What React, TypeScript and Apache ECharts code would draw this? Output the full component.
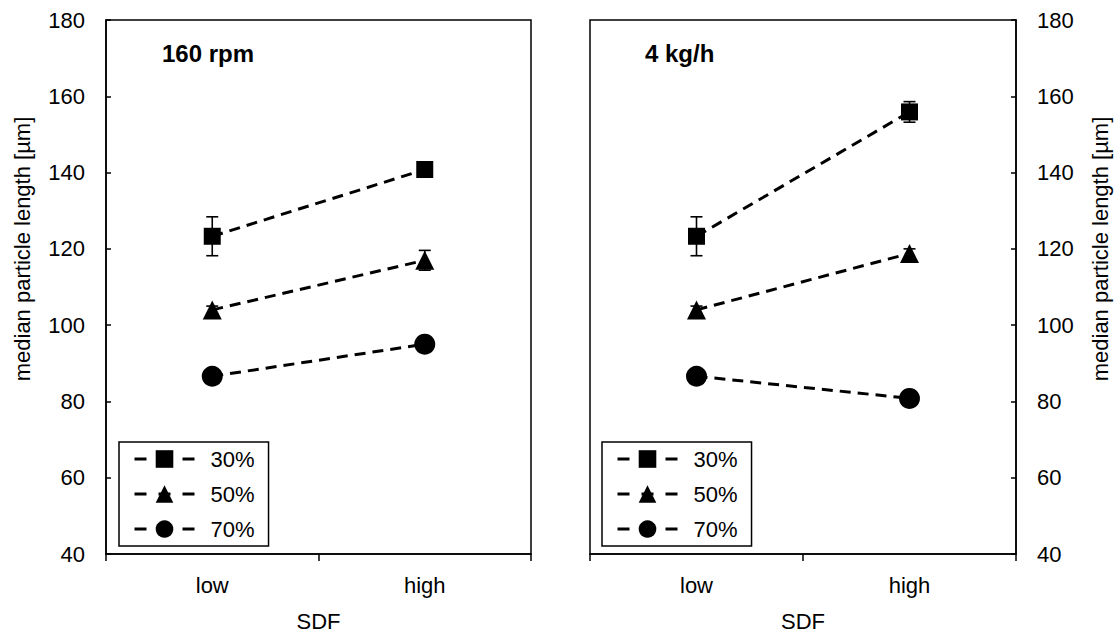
import React, { useEffect, useRef } from "react";
import * as echarts from "echarts";

const categories = ["low", "high"];
const yTicks = { min: 40, max: 180, interval: 20 };
const seriesNames = ["30%", "50%", "70%"];
const symbols = ["rect", "triangle", "circle"];
const symbolSizes = [17, 19, 21];

// Left panel: 160 rpm
const left30 = [123.3, 140.8];
const left30Err = [5.1, 1.0];
const left50 = [104.0, 117.0];
const left50Err = [1.0, 2.6];
const left70 = [86.6, 95.0];
const left70Err = [0.8, 0.8];

// Right panel: 4 kg/h
const right30 = [123.3, 155.9];
const right30Err = [5.1, 2.7];
const right50 = [104.0, 118.8];
const right50Err = [1.0, 1.2];
const right70 = [86.6, 80.8];
const right70Err = [0.8, 0.8];

const panelTitles = ["160 rpm", "4 kg/h"];
const yName = "median particle length [µm]";
const xName = "SDF";

const FONT = "'Liberation Sans', Arial, Helvetica, sans-serif";

export default function App() {
  const ref = useRef<HTMLDivElement>(null);
  useEffect(() => {
    if (!ref.current) return;
    const chart = echarts.init(ref.current, undefined, { renderer: "svg" });

    const panels = [
      { vals: [left30, left50, left70], errs: [left30Err, left50Err, left70Err] },
      { vals: [right30, right50, right70], errs: [right30Err, right50Err, right70Err] },
    ];

    const series: any[] = [];
    panels.forEach((p, gi) => {
      p.vals.forEach((v, si) => {
        series.push({
          type: "custom",
          xAxisIndex: gi,
          yAxisIndex: gi,
          silent: true,
          z: 1,
          data: v.map((y, i) => [i, y, p.errs[si][i]]),
          encode: { x: 0, y: 1 },
          renderItem: (params: any, api: any) => {
            const x = api.value(0);
            const y = api.value(1);
            const e = api.value(2);
            const t = api.coord([x, y + e]);
            const b = api.coord([x, y - e]);
            const h = 6;
            const st = { stroke: "#000", lineWidth: 1.6 };
            return {
              type: "group",
              children: [
                { type: "line", shape: { x1: t[0], y1: t[1], x2: b[0], y2: b[1] }, style: st },
                { type: "line", shape: { x1: t[0] - h, y1: t[1], x2: t[0] + h, y2: t[1] }, style: st },
                { type: "line", shape: { x1: b[0] - h, y1: b[1], x2: b[0] + h, y2: b[1] }, style: st },
              ],
            };
          },
        });
      });
      p.vals.forEach((v, si) => {
        series.push({
          type: "line",
          name: seriesNames[si],
          xAxisIndex: gi,
          yAxisIndex: gi,
          z: 3,
          data: v,
          symbol: symbols[si],
          symbolSize: symbolSizes[si],
          itemStyle: { color: "#000" },
          lineStyle: { color: "#000", width: 3, type: [11, 7] },
        });
      });
    });

    const axisLine = { show: true, lineStyle: { color: "#000", width: 1.5 } };
    const label = { color: "#000", fontSize: 22, fontFamily: FONT };

    const xAxis = [0, 1].map((gi) => ({
      type: "category",
      gridIndex: gi,
      data: categories,
      boundaryGap: true,
      axisLine,
      axisTick: { show: true, inside: false, length: 7, lineStyle: { color: "#000", width: 1.5 } },
      axisLabel: { ...label, margin: 20 },
      name: xName,
      nameLocation: "middle",
      nameGap: 56,
      nameTextStyle: label,
      splitLine: { show: false },
    }));

    const yAxis = [0, 1].map((gi) => ({
      type: "value",
      gridIndex: gi,
      position: gi === 0 ? "left" : "right",
      min: yTicks.min,
      max: yTicks.max,
      interval: yTicks.interval,
      axisLine,
      axisTick: { show: true, inside: true, length: 5, lineStyle: { color: "#000", width: 1.5 } },
      axisLabel: { ...label, margin: 21 },
      splitLine: { show: false },
    }));

    const legend = [119, 602].map((l) => ({
      show: true,
      orient: "vertical",
      left: l,
      top: 442,
      data: seriesNames,
      itemWidth: 60,
      itemHeight: 22,
      itemGap: 13,
      padding: [6, 14, 6, 14],
      borderColor: "#000",
      borderWidth: 1.5,
      borderRadius: 0,
      backgroundColor: "#fff",
      lineStyle: { type: [12, 12], width: 3, color: "#000" },
      textStyle: { ...label, lineHeight: 22, padding: [0, 0, 0, 11] },
      selectedMode: false,
      inactiveColor: "#000",
    }));

    const yNameStyle = { text: yName, fill: "#000", font: `22px ${FONT}`, align: "center", verticalAlign: "middle" };

    chart.setOption({
      animation: false,
      backgroundColor: "#fff",
      title: [
        { text: panelTitles[0], left: 157, top: 36, textStyle: { fontSize: 24, fontWeight: "bold", color: "#000", fontFamily: FONT } },
        { text: panelTitles[1], left: 640, top: 36, textStyle: { fontSize: 24, fontWeight: "bold", color: "#000", fontFamily: FONT } },
      ],
      grid: [
        { left: 106, right: 588, top: 20, bottom: 80, show: true, borderColor: "#000", borderWidth: 1.5, backgroundColor: "transparent", containLabel: false },
        { left: 590, right: 103, top: 20, bottom: 80, show: true, borderColor: "#000", borderWidth: 1.5, backgroundColor: "transparent", containLabel: false },
      ],
      graphic: [
        { type: "text", x: 22, y: 249, rotation: Math.PI / 2, style: yNameStyle },
        { type: "text", x: 1100, y: 249, rotation: Math.PI / 2, style: yNameStyle },
      ],
      legend,
      xAxis,
      yAxis,
      series,
    });

    return () => chart.dispose();
  }, []);

  return <div ref={ref} style={{ width: 1119, height: 637, position: "absolute", left: 0, top: 0 }} />;
}
